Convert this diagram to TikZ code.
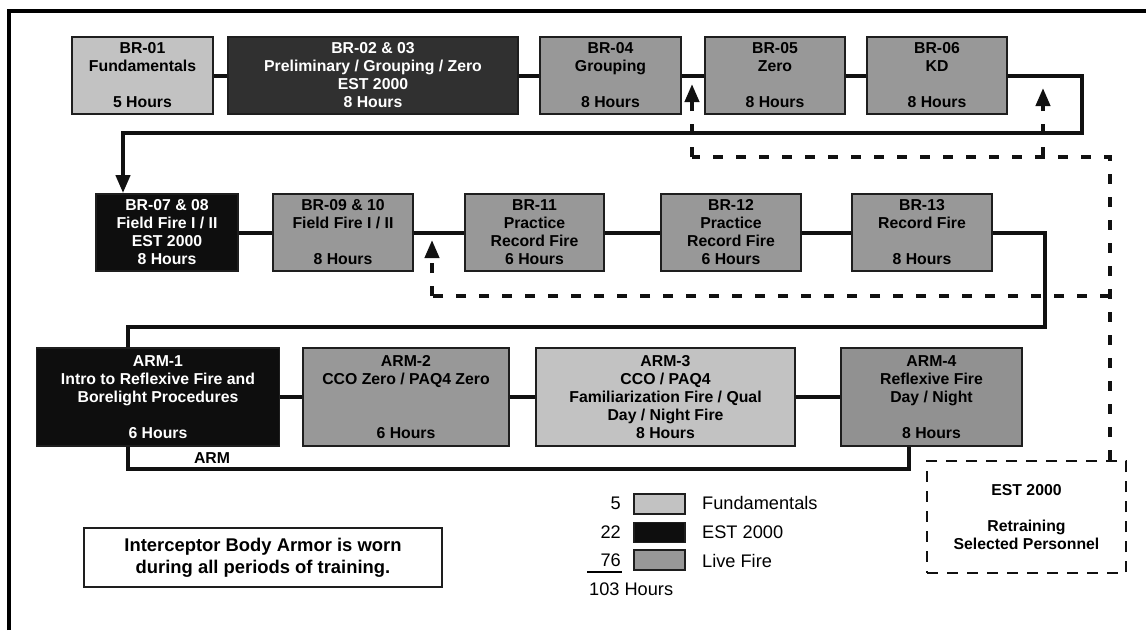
\documentclass[tikz,border=0pt]{standalone}
\usepackage{fontspec}
\setmainfont{Liberation Sans}
\usetikzlibrary{arrows.meta}
\definecolor{fundc}{HTML}{C2C2C2}
\definecolor{livec}{HTML}{989898}
\definecolor{livedk}{HTML}{919191}
\definecolor{estc}{HTML}{0E0E0E}
\definecolor{estg}{HTML}{303030}
\definecolor{bd}{HTML}{1E1E1E}
\definecolor{ln}{HTML}{111111}
\newcommand\bxfont{\fontsize{15.8}{18}\selectfont\bfseries}
\newcommand\lgfont{\fontsize{18.2}{22}\selectfont}
\begin{document}
\begin{tikzpicture}[x=1pt,y=-1pt,
  box/.style={draw=bd, line width=1.8pt, align=center, inner sep=0pt, font=\bxfont, text=black},
  fund/.style={box, fill=fundc},
  live/.style={box, fill=livec},
  est/.style={box, fill=estc, text=white},
  r1/.style={minimum height=77pt},
  r3/.style={minimum height=98pt},
  conn/.style={line width=4pt, draw=ln},
  dsh/.style={line width=4pt, draw=ln, dash pattern=on 10pt off 13pt},
  tip/.style={-{Triangle[length=18pt,width=14pt]}},
  lg/.style={font=\lgfont, inner sep=0pt},
  swatch/.style={draw=bd, line width=1.8pt, minimum width=51pt, minimum height=20pt, inner sep=0pt}
]
\useasboundingbox (0,0) rectangle (1146,630);
\fill[white] (0,0) rectangle (1146,630);
% frame
\draw[line width=4.5pt, draw=black] (9,630) -- (9,11) -- (1146,11);

% row 1
\node[fund, r1, minimum width=141pt] (b01) at (142.5,75.5) {BR-01\\Fundamentals\\[18pt]5 Hours};
\node[box, r1, fill=estg, text=white, minimum width=290pt] (b02) at (373,75.5) {BR-02 \& 03\\Preliminary / Grouping / Zero\\EST 2000\\8 Hours};
\node[live, r1, minimum width=141pt] (b04) at (610.5,75.5) {BR-04\\Grouping\\[18pt]8 Hours};
\node[live, r1, minimum width=140pt] (b05) at (775,75.5) {BR-05\\Zero\\[18pt]8 Hours};
\node[live, r1, minimum width=140pt] (b06) at (937,75.5) {BR-06\\KD\\[18pt]8 Hours};

% row 2
\node[est, r1, minimum width=142pt] (b07) at (167,232.5) {BR-07 \& 08\\Field Fire I / II\\EST 2000\\8 Hours};
\node[live, r1, minimum width=140pt] (b09) at (343,232.5) {BR-09 \& 10\\Field Fire I / II\\[18pt]8 Hours};
\node[live, r1, minimum width=139pt] (b11) at (534.5,232.5) {BR-11\\Practice\\Record Fire\\6 Hours};
\node[live, r1, minimum width=140pt] (b12) at (731,232.5) {BR-12\\Practice\\Record Fire\\6 Hours};
\node[live, r1, minimum width=140pt] (b13) at (922,232.5) {BR-13\\Record Fire\\[18pt]8 Hours};

% row 3
\node[est, r3, minimum width=243pt] (a1) at (158,397) {ARM-1\\Intro to Reflexive Fire and\\Borelight Procedures\\[18pt]6 Hours};
\node[live, r3, minimum width=206pt] (a2) at (406,397) {ARM-2\\CCO Zero / PAQ4 Zero\\[36pt]6 Hours};
\node[box, r3, fill=fundc, minimum width=259pt] (a3) at (665.5,397) {ARM-3\\CCO / PAQ4\\Familiarization Fire / Qual\\Day / Night Fire\\8 Hours};
\node[box, r3, fill=livedk, minimum width=181pt] (a4) at (931.5,397) {ARM-4\\Reflexive Fire\\Day / Night\\[18pt]8 Hours};

% retraining box
\node[box, fill=white, draw=ln, line width=2.5pt, dash pattern=on 11pt off 9pt, minimum width=199pt, minimum height=112pt] (ret) at (1026.5,517) {EST 2000\\[18pt]Retraining\\Selected Personnel};

% note box
\node[draw=bd, line width=2.2pt, align=center, inner sep=0pt, minimum width=358pt, minimum height=59pt, font=\fontsize{18.4}{21.7}\selectfont\bfseries] (note) at (263,557.5) {Interceptor Body Armor is worn\\during all periods of training.};

% row connectors
\draw[conn] (b01.east) -- (b02.west);
\draw[conn] (b02.east) -- (b04.west);
\draw[conn] (b04.east) -- (b05.west);
\draw[conn] (b05.east) -- (b06.west);
\draw[conn] (b07.east) -- (b09.west);
\draw[conn] (b09.east) -- (b11.west);
\draw[conn] (b11.east) -- (b12.west);
\draw[conn] (b12.east) -- (b13.west);
\draw[conn] (a1.east) -- (a2.west);
\draw[conn] (a2.east) -- (a3.west);
\draw[conn] (a3.east) -- (a4.west);

% return lines
\coordinate (r1b) at (1082,133);
\coordinate (l1b) at (123,133);
\draw[conn, tip] (b06.east) -| (r1b) -- (l1b) -- (l1b |- b07.north);
\coordinate (r2b) at (1045,327);
\coordinate (l2b) at (128,327);
\draw[conn] (b13.east) -| (r2b) -- (l2b) -- (l2b |- a1.north);
\coordinate (l3b) at (128,469);
\coordinate (r3b) at (909,469);
\draw[conn] (l3b |- a1.south) -- (l3b) -- (r3b) -- (r3b |- a4.south);
\node[font=\bxfont, inner sep=0pt] (armlbl) at (212,458) {ARM};

% dashed retraining paths
\coordinate (d1) at (1110,157);
\coordinate (d2) at (692,157);
\coordinate (d3) at (1043,157);
\coordinate (d4) at (1110,296);
\coordinate (d5) at (432,296);
\coordinate (t2) at (692,84);
\coordinate (t3) at (1043,88);
\coordinate (t4) at (432,240);
\draw[dsh] (ret.north -| d1) -- (d1) -- (d2);
\draw[dsh, tip] (d2) -- (t2);
\draw[dsh, tip] (d3) -- (t3);
\draw[dsh] (d4) -- (d5);
\draw[dsh, tip] (d5) -- (t4);

% legend
\node[lg, anchor=east] (n5) at (621,503) {5};
\node[lg, anchor=east] (n22) at (621,532) {22};
\node[lg, anchor=east] (n76) at (621,560) {76};
\draw[line width=1.3pt] (587,572) -- (622,572);
\node[lg, anchor=west] (tot) at (589,589) {103 Hours};
\node[swatch, fill=fundc] (s1) at (659.5,504) {};
\node[swatch, fill=estc] (s2) at (659.5,532.5) {};
\node[swatch, fill=livec] (s3) at (659.5,560) {};
\node[lg, anchor=west] (t1) at (702,503) {Fundamentals};
\node[lg, anchor=west] (te) at (702,532) {EST 2000};
\node[lg, anchor=west] (tl) at (702,561) {Live Fire};
\end{tikzpicture}
\end{document}
